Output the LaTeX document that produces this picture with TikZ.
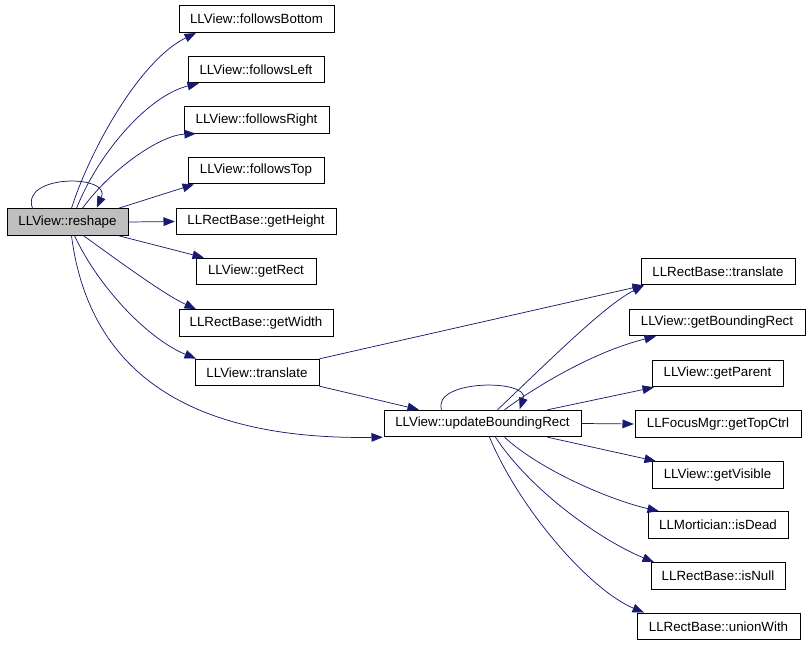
\documentclass[tikz,border=0pt]{standalone}
\usepackage{fontspec}
\setmainfont{Liberation Sans}
\usetikzlibrary{arrows.meta,calc}
\definecolor{edgeblue}{HTML}{191970}
\definecolor{curgray}{HTML}{BFBFBF}
\begin{document}
\begin{tikzpicture}[x=0.75pt,y=-0.75pt,
  box/.style={draw=black,line width=0.75pt,fill=white,inner sep=0pt,minimum height=19.8pt,font=\fontsize{10}{12}\selectfont},
  edge/.style={draw=edgeblue,line width=0.55pt,-{Triangle[length=8.5pt,width=6.5pt]},shorten >=0.5pt}]
\useasboundingbox (0,0) rectangle (811,645);
% nodes
\node[box,fill=curgray,minimum width=121*0.75pt] (reshape) at (67.5,222) {LLView::reshape};
\node[box,minimum width=155*0.75pt] (fb) at (256.5,19) {LLView::followsBottom};
\node[box,minimum width=136*0.75pt] (fl) at (256,69.5) {LLView::followsLeft};
\node[box,minimum width=145*0.75pt] (fr) at (256.5,120) {LLView::followsRight};
\node[box,minimum width=136*0.75pt] (ft) at (256,170.5) {LLView::followsTop};
\node[box,minimum width=160*0.75pt] (gh) at (256,221.5) {LLRectBase::getHeight};
\node[box,minimum width=120*0.75pt] (gr) at (256,271.5) {LLView::getRect};
\node[box,minimum width=154*0.75pt] (gw) at (256,323) {LLRectBase::getWidth};
\node[box,minimum width=124*0.75pt] (tr) at (257,372.5) {LLView::translate};
\node[box,minimum width=197*0.75pt] (ubr) at (482.5,423.5) {LLView::updateBoundingRect};
\node[box,minimum width=154*0.75pt] (rbt) at (718,271.5) {LLRectBase::translate};
\node[box,minimum width=176*0.75pt] (gbr) at (717,322.5) {LLView::getBoundingRect};
\node[box,minimum width=131*0.75pt] (gp) at (717.5,373.5) {LLView::getParent};
\node[box,minimum width=166*0.75pt] (gtc) at (718,424) {LLFocusMgr::getTopCtrl};
\node[box,minimum width=131*0.75pt] (gv) at (717.5,475) {LLView::getVisible};
\node[box,minimum width=140*0.75pt] (id) at (718,525) {LLMortician::isDead};
\node[box,minimum width=134*0.75pt] (in) at (718,576) {LLRectBase::isNull};
\node[box,minimum width=163*0.75pt] (uw) at (718.5,626.5) {LLRectBase::unionWith};
% edges from reshape
\draw[edge] ($(reshape.north west)+(26,0)$) .. controls (20,174) and (112,174) .. ($(reshape.north west)+(90,0)$);
\draw[edge] ($(reshape.north west)+(65,0)$) .. controls (90,150) and (140,60) .. ($(fb.south west)+(18,0)$);
\draw[edge] ($(reshape.north west)+(70,0)$) .. controls (100,150) and (150,95) .. ($(fl.south west)+(12,0)$);
\draw[edge] ($(reshape.north west)+(76,0)$) .. controls (110,170) and (160,135) .. ($(fr.south west)+(13,0)$);
\draw[edge] ($(reshape.north east)+(-10,0)$) -- ($(ft.south west)+(7,0)$);
\draw[edge] (reshape.east) -- (gh.west);
\draw[edge] ($(reshape.south east)+(-10,0)$) -- ($(gr.north west)+(9,0)$);
\draw[edge] ($(reshape.south west)+(77,0)$) .. controls (120,262) and (165,295) .. ($(gw.north west)+(18,0)$);
\draw[edge] ($(reshape.south west)+(68,0)$) .. controls (100,290) and (150,340) .. ($(tr.north west)+(2,0)$);
\draw[edge] ($(reshape.south west)+(65,0)$) .. controls (90,380) and (200,440) .. (ubr.south west);
% edges from LLView::translate
\draw[edge] (tr.north east) -- ($(rbt.south west)+(4,0)$);
\draw[edge] (tr.south east) -- ($(ubr.north west)+(36,0)$);
% edges from updateBoundingRect
\draw[edge] ($(ubr.north west)+(58,0)$) .. controls (432,379) and (530,379) .. ($(ubr.north west)+(136,0)$);
\draw[edge] ($(ubr.north west)+(114,0)$) .. controls (550,360) and (605,305) .. ($(rbt.south west)+(4,0)$);
\draw[edge] ($(ubr.north west)+(121,0)$) .. controls (545,380) and (600,350) .. ($(gbr.south west)+(28,0)$);
\draw[edge] ($(ubr.north west)+(164,0)$) -- ($(gp.south west)+(3,0)$);
\draw[edge] (ubr.east) -- (gtc.west);
\draw[edge] ($(ubr.south west)+(164,0)$) -- ($(gv.north west)+(5,0)$);
\draw[edge] ($(ubr.south west)+(121,0)$) .. controls (540,470) and (610,500) .. ($(id.north west)+(12,0)$);
\draw[edge] ($(ubr.south west)+(112,0)$) .. controls (530,490) and (600,540) .. ($(in.north west)+(4,0)$);
\draw[edge] ($(ubr.south west)+(106,0)$) .. controls (520,510) and (590,590) .. ($(uw.north west)+(8,0)$);
\end{tikzpicture}
\end{document}
